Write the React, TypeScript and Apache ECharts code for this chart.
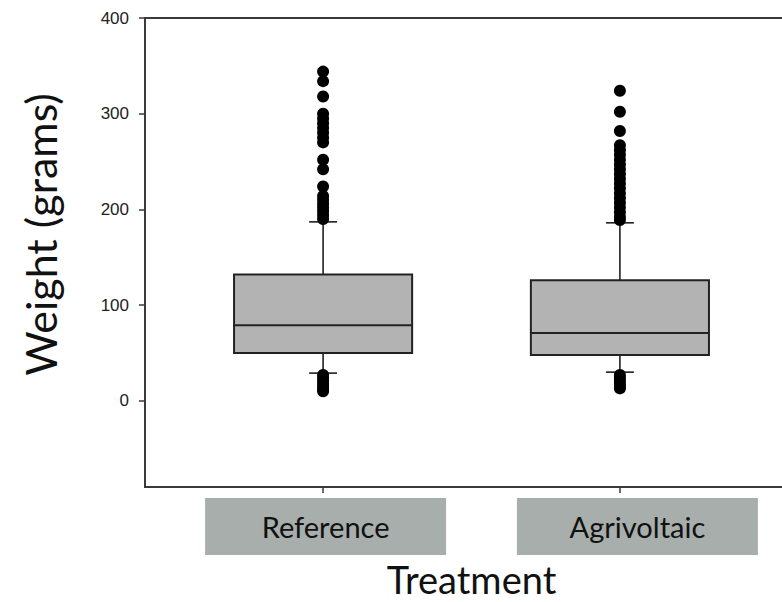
import React, { useEffect, useRef } from "react";
import * as echarts from "echarts";

const categories = ["Reference", "Agrivoltaic"];
const positions = [1, 2];
const lowerWhisker = [29, 30];
const q1 = [50, 48];
const median = [79, 71];
const q3 = [132, 126];
const upperWhisker = [187, 186];
const referenceUpperOutliers = [344, 334, 318, 300, 295, 290, 285, 280, 275, 270, 252, 242, 224, 214, 210, 206, 202, 198, 194, 190];
const referenceLowerOutliers = [27, 24, 21, 18, 15, 12, 10];
const agrivoltaicUpperOutliers = [324, 302, 282, 267, 262, 257, 252, 247, 242, 237, 232, 227, 222, 217, 212, 207, 202, 197, 192, 189];
const agrivoltaicLowerOutliers = [27, 24, 21, 18, 15, 13];
const yTicks = [0, 100, 200, 300, 400];

export default function App() {
  const ref = useRef<HTMLDivElement>(null);
  useEffect(() => {
    if (!ref.current) return;
    const chart = echarts.init(ref.current, undefined, { renderer: "svg" });
    const boxData = positions.map((p, i) => [p, lowerWhisker[i], q1[i], median[i], q3[i], upperWhisker[i]]);
    const outlierData = [
      ...referenceUpperOutliers.map((v) => [positions[0], v]),
      ...referenceLowerOutliers.map((v) => [positions[0], v]),
      ...agrivoltaicUpperOutliers.map((v) => [positions[1], v]),
      ...agrivoltaicLowerOutliers.map((v) => [positions[1], v]),
    ];
    const lineColor = "#3a3a3a";
    const labelBox = {
      backgroundColor: "#a7aeab",
      width: 241,
      height: 57,
      lineHeight: 57,
      align: "center",
      verticalAlign: "middle",
      fontSize: 29,
      fontFamily: "Lato",
      color: "#111",
    };
    chart.setOption({
      animation: false,
      grid: {
        left: 145,
        top: 18,
        width: 653,
        height: 469,
        outerBoundsMode: "none",
        containLabel: false,
        show: true,
        borderColor: lineColor,
        borderWidth: 2,
        backgroundColor: "transparent",
      },
      xAxis: {
        type: "value",
        min: 0.4,
        max: 2.6,
        name: "Treatment",
        nameLocation: "middle",
        nameGap: 72,
        nameTextStyle: { fontSize: 38, lineHeight: 38, fontFamily: "Lato", color: "#111" },
        axisLine: { show: true, onZero: false, lineStyle: { color: lineColor, width: 2 } },
        axisTick: { show: true, customValues: positions, length: 6, lineStyle: { color: lineColor, width: 1.5 } },
        splitLine: { show: false },
        axisLabel: {
          customValues: positions,
          margin: 11,
          formatter: (v: number) => {
            const i = positions.indexOf(Math.round(v));
            if (i === 0) return "{s0| }{box|" + categories[0] + "}";
            if (i === 1) return "{s1| }{box|" + categories[1] + "}";
            return "";
          },
          rich: {
            s0: { width: 5, height: 57 },
            s1: { width: 35, height: 57 },
            box: labelBox,
          },
        },
      },
      yAxis: {
        type: "value",
        min: -90,
        max: 400,
        name: "Weight (grams)",
        nameLocation: "middle",
        nameGap: 83,
        nameTextStyle: { fontSize: 43, fontFamily: "Lato", color: "#111", padding: [0, 0, 0, 36] },
        axisLine: { show: true, onZero: false, lineStyle: { color: lineColor, width: 2 } },
        axisTick: { show: true, customValues: yTicks, length: 6, lineStyle: { color: lineColor, width: 1.5 } },
        splitLine: { show: false },
        axisLabel: {
          customValues: yTicks,
          margin: 16,
          fontSize: 17,
          fontFamily: "Liberation Sans",
          color: "#222",
        },
      },
      series: [
        {
          type: "custom",
          data: boxData,
          encode: { x: 0, y: [1, 2, 3, 4, 5] },
          renderItem: (params: any, api: any) => {
            const x = api.value(0);
            const pLow = api.coord([x, api.value(1)]);
            const pQ1 = api.coord([x, api.value(2)]);
            const pMed = api.coord([x, api.value(3)]);
            const pQ3 = api.coord([x, api.value(4)]);
            const pHigh = api.coord([x, api.value(5)]);
            const halfBox = api.size([0.6, 0])[0] / 2;
            const halfCap = api.size([0.094, 0])[0] / 2;
            const cx = pQ1[0];
            const wStyle = { stroke: "#111", lineWidth: 1.5 };
            return {
              type: "group",
              children: [
                { type: "line", shape: { x1: cx, y1: pLow[1], x2: cx, y2: pQ1[1] }, style: wStyle },
                { type: "line", shape: { x1: cx, y1: pQ3[1], x2: cx, y2: pHigh[1] }, style: wStyle },
                { type: "line", shape: { x1: cx - halfCap, y1: pLow[1], x2: cx + halfCap, y2: pLow[1] }, style: wStyle },
                { type: "line", shape: { x1: cx - halfCap, y1: pHigh[1], x2: cx + halfCap, y2: pHigh[1] }, style: wStyle },
                {
                  type: "rect",
                  shape: { x: cx - halfBox, y: pQ3[1], width: halfBox * 2, height: pQ1[1] - pQ3[1] },
                  style: { fill: "#b3b3b3", stroke: "#222", lineWidth: 2 },
                },
                { type: "line", shape: { x1: cx - halfBox, y1: pMed[1], x2: cx + halfBox, y2: pMed[1] }, style: { stroke: "#222", lineWidth: 2 } },
              ],
            };
          },
          z: 2,
        },
        {
          type: "scatter",
          data: outlierData,
          symbol: "circle",
          symbolSize: 12,
          itemStyle: { color: "#000", opacity: 1 },
          z: 3,
        },
      ],
    });
    return () => chart.dispose();
  }, []);
  return <div ref={ref} style={{ width: 782, height: 602, position: "absolute", left: 0, top: 0 }} />;
}
